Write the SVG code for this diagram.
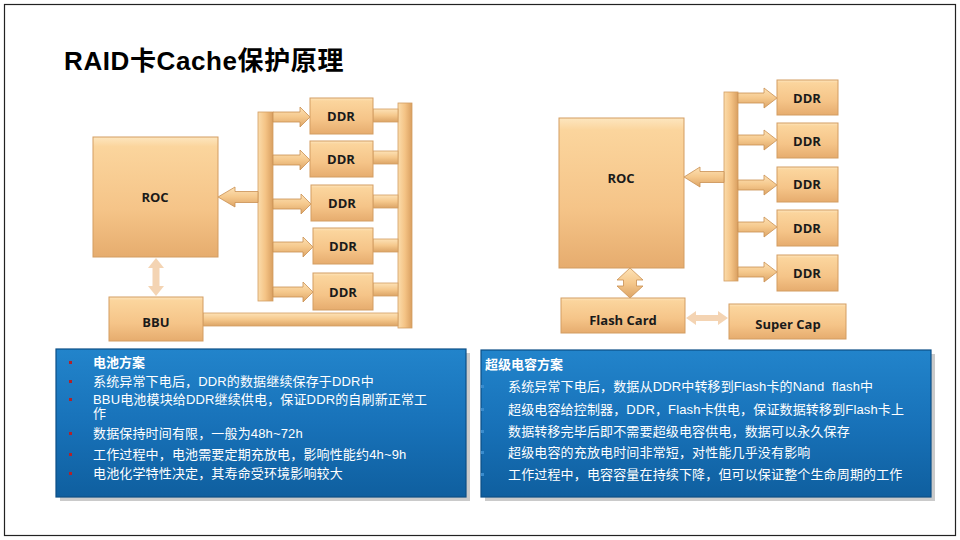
<svg xmlns="http://www.w3.org/2000/svg" width="960" height="540" viewBox="0 0 960 540">
<defs>
<linearGradient id="gBox" x1="0" y1="0" x2="0" y2="1">
<stop offset="0" stop-color="#fde6bf"/>
<stop offset="0.08" stop-color="#fbd59d"/>
<stop offset="0.6" stop-color="#f5c488"/>
<stop offset="1" stop-color="#e6ac6e"/>
</linearGradient>
<linearGradient id="gV" x1="0" y1="0" x2="1" y2="0">
<stop offset="0" stop-color="#fbdcab"/>
<stop offset="0.5" stop-color="#f4c385"/>
<stop offset="1" stop-color="#d99f60"/>
</linearGradient>
<linearGradient id="gH" x1="0" y1="0" x2="0" y2="1">
<stop offset="0" stop-color="#fde2b6"/>
<stop offset="0.5" stop-color="#f5c88c"/>
<stop offset="1" stop-color="#dca466"/>
</linearGradient>
<linearGradient id="gBlue" x1="0" y1="0" x2="0" y2="1">
<stop offset="0" stop-color="#2284cb"/>
<stop offset="0.5" stop-color="#1872b9"/>
<stop offset="1" stop-color="#0f5f9f"/>
</linearGradient>
<style>
.box{fill:url(#gBox);stroke:#d39d62;stroke-width:1}
.vbar{fill:url(#gV);stroke:#d39d62;stroke-width:0.8}
.hbar{fill:url(#gH);stroke:#d39d62;stroke-width:0.8}
.arr{fill:url(#gH);stroke:#c98f52;stroke-width:0.8}
.pale{fill:#f2cca6;opacity:0.85}
.lbl{font-family:"Open Sans","Liberation Sans",sans-serif;font-weight:bold;font-size:13px;fill:#1a1a1a;text-anchor:middle}
.title{font-family:"Liberation Sans","Noto Sans CJK SC",sans-serif;font-weight:bold;font-size:26px;letter-spacing:0.6px;fill:#000}
.txt{font-family:"Liberation Sans","Noto Sans CJK SC",sans-serif;font-size:13px;letter-spacing:0.15px;fill:#ffffff}
.txtb{font-family:"Liberation Sans","Noto Sans CJK SC",sans-serif;font-size:13px;font-weight:bold;fill:#ffffff}
.blue{fill:url(#gBlue);stroke:#0c4f86;stroke-width:1.2}
.shadow{fill:#8a8a8a;opacity:0.45}
.bulR{fill:#b0222a}
.bulB{fill:#3a8bcc}
</style>
</defs>
<rect x="0" y="0" width="960" height="540" fill="#ffffff"/>
<rect x="4.5" y="4.5" width="951" height="531" fill="none" stroke="#222" stroke-width="1.2"/>

<text class="title" x="64" y="70">RAID卡Cache保护原理</text>

<g id="connectors">
<rect class="vbar" x="258" y="112" width="15" height="189"/>
<rect class="vbar" x="398" y="103" width="14" height="225"/>
<rect class="hbar" x="203" y="313" width="195" height="13"/>
<rect class="hbar" x="373" y="109" width="25" height="13"/>
<rect class="hbar" x="373" y="151" width="25" height="13"/>
<rect class="hbar" x="373" y="195" width="25" height="13"/>
<rect class="hbar" x="373" y="239" width="25" height="13"/>
<rect class="hbar" x="373" y="283" width="25" height="13"/>
<path class="arr" d="M273,112 H300 V107 L310,117 L300,127 V122 H273 Z"/>
<path class="arr" d="M273,155 H300 V150 L310,160 L300,170 V165 H273 Z"/>
<path class="arr" d="M273,199 H301 V194 L311,204 L301,214 V209 H273 Z"/>
<path class="arr" d="M273,242 H303 V237 L313,247 L303,257 V252 H273 Z"/>
<path class="arr" d="M273,287 H303 V282 L313,292 L303,302 V297 H273 Z"/>
<path class="arr" d="M258,191.5 H235 V187 L218,197 L235,207 V202.5 H258 Z"/>
<path class="pale" d="M156,258 L164,268 H159.5 V286 H164 L156,296 L148,286 H152.5 V268 H148 Z"/>
<rect class="vbar" x="724" y="92" width="14" height="189"/>
<path class="arr" d="M738,93 H764 V88 L777,98 L764,108 V103 H738 Z"/>
<path class="arr" d="M738,135 H764 V130 L777,140 L764,150 V145 H738 Z"/>
<path class="arr" d="M738,180 H764 V175 L777,185 L764,195 V190 H738 Z"/>
<path class="arr" d="M738,222 H764 V217 L777,227 L764,237 V232 H738 Z"/>
<path class="arr" d="M738,267 H764 V262 L777,272 L764,282 V277 H738 Z"/>
<path class="arr" d="M724,171.5 H700 V167 L684,177 L700,187 V182.5 H724 Z"/>
<path class="arr" d="M630,268 L643,280 H636.5 V286 H643 L630,298 L617,286 H623.5 V280 H617 Z"/>
<path class="pale" d="M686,318 L696,311 V315 H718 V311 L728,318 L718,325 V321 H696 V325 Z"/>
</g>

<g id="roc-left"><rect class="box" x="93" y="137" width="125" height="120"/><text class="lbl" x="155" y="202">ROC</text></g>
<g id="bbu"><rect class="box" x="109" y="297" width="94" height="44"/><text class="lbl" x="156" y="327">BBU</text></g>
<g id="ddr-l1"><rect class="box" x="310" y="98" width="63" height="36"/><text class="lbl" x="341" y="121">DDR</text></g>
<g id="ddr-l2"><rect class="box" x="310" y="141" width="63" height="36"/><text class="lbl" x="341" y="164">DDR</text></g>
<g id="ddr-l3"><rect class="box" x="311" y="185" width="62" height="36"/><text class="lbl" x="342" y="208">DDR</text></g>
<g id="ddr-l4"><rect class="box" x="313" y="228" width="60" height="36"/><text class="lbl" x="343" y="251">DDR</text></g>
<g id="ddr-l5"><rect class="box" x="313" y="273" width="60" height="37"/><text class="lbl" x="343" y="297">DDR</text></g>

<g id="roc-right"><rect class="box" x="559" y="118" width="125" height="150"/><text class="lbl" x="621" y="183">ROC</text></g>
<g id="ddr-r1"><rect class="box" x="777" y="80" width="61" height="35"/><text class="lbl" x="807" y="103">DDR</text></g>
<g id="ddr-r2"><rect class="box" x="777" y="123" width="61" height="35"/><text class="lbl" x="807" y="146">DDR</text></g>
<g id="ddr-r3"><rect class="box" x="777" y="167" width="61" height="35"/><text class="lbl" x="807" y="189">DDR</text></g>
<g id="ddr-r4"><rect class="box" x="777" y="210" width="61" height="36"/><text class="lbl" x="807" y="233">DDR</text></g>
<g id="ddr-r5"><rect class="box" x="777" y="255" width="61" height="36"/><text class="lbl" x="807" y="278">DDR</text></g>
<g id="flash-card"><rect class="box" x="561" y="298" width="124" height="35"/><text class="lbl" x="623" y="325">Flash Card</text></g>
<g id="super-cap"><rect class="box" x="729" y="304" width="117" height="35"/><text class="lbl" x="788" y="329">Super Cap</text></g>

<g id="battery-panel">
<rect class="shadow" x="60" y="353" width="410" height="148"/>
<rect class="blue" x="56" y="349" width="410" height="148"/>
<rect class="bulR" x="69" y="361" width="3" height="3"/>
<rect class="bulR" x="69" y="380" width="3" height="3"/>
<rect class="bulR" x="69" y="398" width="3" height="3"/>
<rect class="bulR" x="69" y="432" width="3" height="3"/>
<rect class="bulR" x="69" y="453" width="3" height="3"/>
<rect class="bulR" x="69" y="472" width="3" height="3"/>
<text class="txtb" x="93" y="367">电池方案</text>
<text class="txt" x="93" y="386">系统异常下电后，DDR的数据继续保存于DDR中</text>
<text class="txt" x="93" y="404">BBU电池模块给DDR继续供电，保证DDR的自刷新正常工</text>
<text class="txt" x="93" y="418">作</text>
<text class="txt" x="93" y="438">数据保持时间有限，一般为48h~72h</text>
<text class="txt" x="93" y="459">工作过程中，电池需要定期充放电，影响性能约4h~9h</text>
<text class="txt" x="93" y="478">电池化学特性决定，其寿命受环境影响较大</text>
</g>

<g id="supercap-panel">
<rect class="shadow" x="485" y="354" width="450" height="147"/>
<rect class="blue" x="481" y="350" width="450" height="147"/>
<rect class="bulB" x="481" y="385" width="3" height="3"/>
<rect class="bulB" x="481" y="408" width="3" height="3"/>
<rect class="bulB" x="481" y="430" width="3" height="3"/>
<rect class="bulB" x="481" y="451" width="3" height="3"/>
<rect class="bulB" x="481" y="473" width="3" height="3"/>
<text class="txtb" x="485" y="369">超级电容方案</text>
<text class="txt" x="508" y="391">系统异常下电后，数据从DDR中转移到Flash卡的Nand&#160; flash中</text>
<text class="txt" x="508" y="414">超级电容给控制器，DDR，Flash卡供电，保证数据转移到Flash卡上</text>
<text class="txt" x="508" y="436">数据转移完毕后即不需要超级电容供电，数据可以永久保存</text>
<text class="txt" x="508" y="457">超级电容的充放电时间非常短，对性能几乎没有影响</text>
<text class="txt" x="508" y="479">工作过程中，电容容量在持续下降，但可以保证整个生命周期的工作</text>
</g>
</svg>
